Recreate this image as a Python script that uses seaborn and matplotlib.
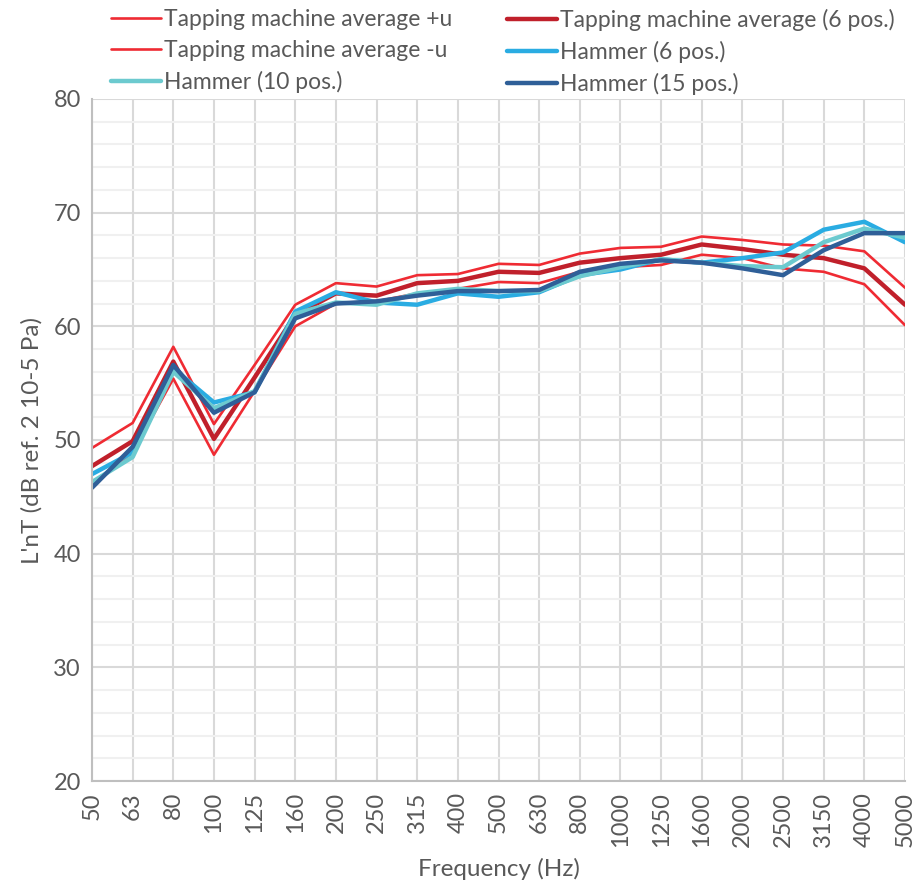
import numpy as np
import pandas as pd
import matplotlib
matplotlib.use("Agg")
import matplotlib.pyplot as plt
import seaborn as sns
from matplotlib.ticker import MultipleLocator

freqs = ["50", "63", "80", "100", "125", "160", "200", "250", "315", "400", "500",
         "630", "800", "1000", "1250", "1600", "2000", "2500", "3150", "4000", "5000"]

tm_plus_u = [49.3, 51.5, 58.2, 51.4, 56.6, 61.9, 63.8, 63.5, 64.5, 64.6, 65.5,
             65.4, 66.4, 66.9, 67.0, 67.9, 67.6, 67.2, 67.1, 66.6, 63.4]
tm_avg = [47.7, 49.9, 56.9, 50.1, 55.5, 61.0, 62.9, 62.7, 63.8, 64.0, 64.8,
          64.7, 65.6, 66.0, 66.3, 67.2, 66.8, 66.3, 66.0, 65.1, 61.9]
tm_minus_u = [46.1, 48.9, 55.4, 48.7, 54.3, 60.0, 62.0, 62.2, 62.9, 63.3, 63.9,
              63.8, 64.8, 65.2, 65.4, 66.3, 66.0, 65.1, 64.8, 63.7, 60.1]
hammer_6 = [47.0, 48.9, 56.3, 53.3, 54.2, 61.3, 63.0, 62.1, 61.9, 62.9, 62.6,
            63.0, 64.5, 65.0, 65.9, 65.6, 66.0, 66.5, 68.5, 69.2, 67.4]
hammer_10 = [46.3, 48.5, 56.0, 52.8, 54.3, 61.1, 62.1, 61.9, 62.9, 63.3, 63.1,
             63.1, 64.4, 65.2, 65.9, 65.6, 65.3, 65.2, 67.4, 68.6, 67.8]
hammer_15 = [45.8, 49.4, 56.6, 52.4, 54.2, 60.7, 62.0, 62.2, 62.7, 63.1, 63.1,
             63.2, 64.8, 65.5, 65.8, 65.6, 65.1, 64.5, 66.7, 68.2, 68.2]

series = {
    "Tapping machine average +u": tm_plus_u,
    "Tapping machine average (6 pos.)": tm_avg,
    "Tapping machine average -u": tm_minus_u,
    "Hammer (6 pos.)": hammer_6,
    "Hammer (10 pos.)": hammer_10,
    "Hammer (15 pos.)": hammer_15,
}
colors = {
    "Tapping machine average +u": "#ef2b33",
    "Tapping machine average (6 pos.)": "#c0202b",
    "Tapping machine average -u": "#ef2b33",
    "Hammer (6 pos.)": "#2aace2",
    "Hammer (10 pos.)": "#6ccacf",
    "Hammer (15 pos.)": "#2f5f98",
}
widths = {
    "Tapping machine average +u": 1.9,
    "Tapping machine average (6 pos.)": 3.2,
    "Tapping machine average -u": 1.9,
    "Hammer (6 pos.)": 3.2,
    "Hammer (10 pos.)": 3.2,
    "Hammer (15 pos.)": 3.2,
}

rows = []
for name, vals in series.items():
    for i, v in enumerate(vals):
        rows.append((name, i, v))
df = pd.DataFrame(rows, columns=["Series", "Pos", "Level"])

sns.set_style("white")
plt.rcParams["font.family"] = ["Lato", "DejaVu Sans"]

fig = plt.figure(figsize=(9.14, 8.86), dpi=100)
ax = fig.add_axes([92 / 914, 1 - 781 / 886, (905 - 92) / 914, (781 - 99) / 886])

sns.lineplot(data=df, x="Pos", y="Level", hue="Series", size="Series",
             palette=colors, sizes=widths, hue_order=list(series.keys()),
             size_order=list(series.keys()), ax=ax, legend=False)

ax.set_xlim(0, len(freqs) - 1)
ax.set_ylim(20, 80)
ax.set_xticks(range(len(freqs)))
ax.set_xticklabels(freqs, rotation=90)
ax.yaxis.set_major_locator(MultipleLocator(10))
ax.yaxis.set_minor_locator(MultipleLocator(2))
ax.grid(True, which="major", color="#d9d9d9", lw=1.5)
ax.grid(True, which="minor", axis="y", color="#f0f0f0", lw=1.5)
ax.set_axisbelow(True)
for s in ["top", "right"]:
    ax.spines[s].set_visible(False)
for s in ["left", "bottom"]:
    ax.spines[s].set_color("#bfbfbf")
    ax.spines[s].set_linewidth(1.5)
ax.tick_params(axis="both", which="both", length=0, labelsize=17, colors="#595959", pad=8)
ax.set_xlabel("Frequency (Hz)", fontsize=17.5, color="#595959", labelpad=8)
ax.set_ylabel("L'nT (dB ref. 2 10-5 Pa)", fontsize=17.5, color="#595959", labelpad=8)

# legend in Excel row order: two columns placed separately
cols = [
    (["Tapping machine average +u", "Tapping machine average -u", "Hammer (10 pos.)"], 90),
    (["Tapping machine average (6 pos.)", "Hammer (6 pos.)", "Hammer (15 pos.)"], 486),
]
for names, x0 in cols:
    handles = [plt.Line2D([], [], color=colors[n], lw=widths[n]) for n in names]
    leg = fig.legend(handles, names, loc="upper left", bbox_to_anchor=(x0 / 914, 1.013),
                     frameon=False, fontsize=16.5, handlelength=2.2,
                     handletextpad=0.15, labelspacing=0.43)
    for t in leg.get_texts():
        t.set_color("#595959")

fig.savefig("out.png", dpi=100)
